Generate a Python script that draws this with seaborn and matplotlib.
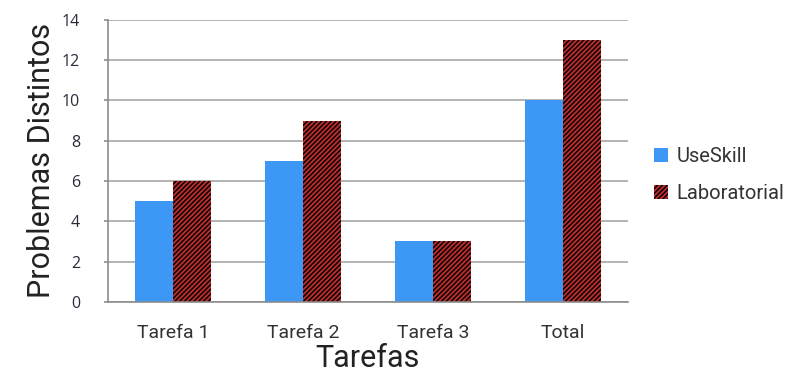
import pandas as pd
import matplotlib.pyplot as plt
import seaborn as sns

# data
tarefas = ['Tarefa 1', 'Tarefa 2', 'Tarefa 3', 'Total']
useskill = [5, 7, 3, 10]
laboratorial = [6, 9, 3, 13]

df = pd.DataFrame({
    'Tarefa': tarefas * 2,
    'Grupo': ['UseSkill'] * 4 + ['Laboratorial'] * 4,
    'Problemas': useskill + laboratorial,
})

sns.set_theme(style='white')
plt.rcParams['font.family'] = ['Roboto', 'DejaVu Sans']
plt.rcParams['hatch.color'] = 'black'
plt.rcParams['hatch.linewidth'] = 1.0

fig = plt.figure(figsize=(7.92, 3.76), dpi=100)
ax = fig.add_axes([0.136, 0.197, 0.657, 0.75])

sns.barplot(data=df, x='Tarefa', y='Problemas', hue='Grupo',
            palette=['#3d97f5', '#b82c2c'], width=0.585, gap=0,
            saturation=1, ax=ax, linewidth=0, legend=True)

# hatch the Laboratorial bars
for bar in ax.containers[1]:
    bar.set_hatch('///////')
    bar.set_edgecolor('black')
    bar.set_linewidth(0)

ax.set_ylim(0, 14)
ax.set_yticks(range(0, 15, 2))
ax.yaxis.grid(True, color='#b3b3b3', linewidth=1.4)
ax.set_axisbelow(True)
for side in ['top', 'right']:
    ax.spines[side].set_visible(False)
for side in ['left', 'bottom']:
    ax.spines[side].set_color('#8c8c8c')
    ax.spines[side].set_linewidth(1.2)

ax.tick_params(axis='y', left=True, length=3, width=1.2, color='#8c8c8c',
               pad=17, labelsize=11.5, labelcolor='#2a2a3a')
ax.tick_params(axis='x', bottom=False, pad=10, labelsize=14, labelcolor='#333333')
for lbl in ax.get_yticklabels():
    lbl.set_fontfamily(['Open Sans', 'DejaVu Sans'])

ax.set_xlabel('Tarefas', fontsize=22, color='#222222', labelpad=1)
ax.set_ylabel('Problemas Distintos', fontsize=22, color='#222222', labelpad=4)

# legend squares like the reference
handles, labels = ax.get_legend_handles_labels()
handles[1].set_hatch('///////')
handles[1].set_edgecolor('black')
ax.legend(handles, labels, loc='center left', bbox_to_anchor=(1.015, 0.45),
          frameon=False, fontsize=14.5, handlelength=0.7, handleheight=0.7,
          handletextpad=0.4, labelspacing=0.9, labelcolor='#333333')

fig.savefig('out.png', dpi=100)
